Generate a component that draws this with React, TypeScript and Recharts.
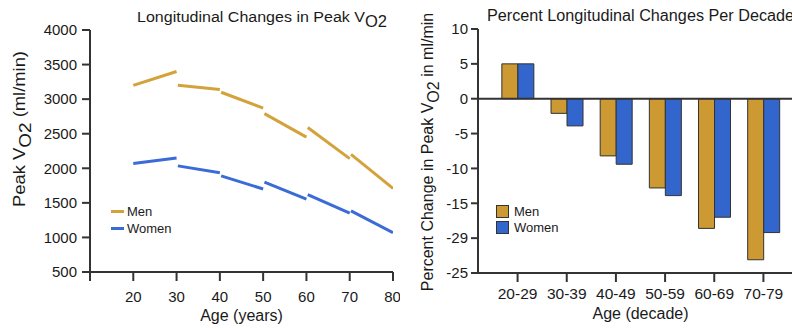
import { LineChart, Line, BarChart, Bar, XAxis, YAxis, Legend, ReferenceLine } from 'recharts';

// left panel: peak VO2 (ml/min), one segment per decade
const decadeStarts = [20, 30, 40, 50, 60, 70];
const menStart = [3200, 3200, 3100, 2790, 2590, 2200];
const menEnd = [3400, 3140, 2870, 2450, 2140, 1710];
const womenStart = [2070, 2035, 1890, 1800, 1620, 1385];
const womenEnd = [2150, 1935, 1700, 1555, 1350, 1070];
const ageTicks = [10, 20, 30, 40, 50, 60, 70, 80];
const vo2Ticks = [500, 1000, 1500, 2000, 2500, 3000, 3500, 4000];

// right panel: percent change per decade
const decades = ['20-29', '30-39', '40-49', '50-59', '60-69', '70-79'];
const menPct = [5, -2.1, -8.2, -12.8, -18.6, -23.1];
const womenPct = [5, -3.9, -9.4, -13.9, -17.0, -19.2];
const pctTicks = [10, 5, 0, -5, -10, -15, -20, -25];
const pctTickLabels = ['10', '5', '0', '-5', '-10', '-15', '-29', '-25'];

const MEN = '#CC9933';
const WOMEN = '#3366CC';
const LINE_MEN = '#D4A23A';
const LINE_WOMEN = '#3A6BD6';
const INK = '#1a1a1a';
const AXIS = '#333';
const FONT = '"Liberation Sans", Arial, sans-serif';

const segment = (i: number, start: number[], end: number[]) => [
  { age: i === 0 ? decadeStarts[i] : decadeStarts[i] + 0.3, v: start[i] },
  { age: decadeStarts[i] + 10, v: end[i] },
];

const barData = decades.map((d, i) => ({ decade: d, men: menPct[i], women: womenPct[i] }));

const tickStyle = { fontSize: 15, fill: INK, fontFamily: FONT };

const LineLegend = () => (
  <div style={{ fontFamily: FONT, fontSize: 13, color: INK }}>
    {[
      { name: 'Men', c: LINE_MEN },
      { name: 'Women', c: LINE_WOMEN },
    ].map((it) => (
      <div key={it.name} style={{ display: 'flex', alignItems: 'center', height: 17 }}>
        <span style={{ display: 'inline-block', width: 13, height: 3, background: it.c, marginRight: 3 }} />
        {it.name}
      </div>
    ))}
  </div>
);

const BarLegend = () => (
  <div style={{ fontFamily: FONT, fontSize: 13, color: INK }}>
    {[
      { name: 'Men', c: MEN },
      { name: 'Women', c: WOMEN },
    ].map((it) => (
      <div key={it.name} style={{ display: 'flex', alignItems: 'center', height: 16 }}>
        <span
          style={{
            display: 'inline-block',
            width: 11,
            height: 11,
            background: it.c,
            border: `1px solid ${AXIS}`,
            marginRight: 5,
          }}
        />
        {it.name}
      </div>
    ))}
  </div>
);

const LeftYLabel = () => (
  <text
    x={25}
    y={129}
    transform="rotate(-90, 25, 129)"
    textAnchor="middle"
    fill={INK}
    fontFamily={FONT}
    fontSize={16.5}
    textLength={156}
    lengthAdjust="spacingAndGlyphs"
  >
    Peak V
    <tspan fontSize={17} dy={6}>O2</tspan>
    <tspan fontSize={16.5} dy={-6}> (ml/min)</tspan>
  </text>
);

const RightYLabel = () => (
  <text
    x={33}
    y={152}
    transform="rotate(-90, 33, 152)"
    textAnchor="middle"
    fill={INK}
    fontFamily={FONT}
    fontSize={16}
  >
    Percent Change in Peak V
    <tspan dy={6}>O2</tspan>
    <tspan dy={-6}> in ml/min</tspan>
  </text>
);

export default function App() {
  return (
    <div
      style={{
        position: 'absolute',
        left: 0,
        top: 0,
        width: 792,
        height: 329,
        overflow: 'hidden',
        background: '#fff',
        fontFamily: FONT,
      }}
    >
      <div style={{ position: 'absolute', left: 0, top: 0 }}>
        <LineChart width={400} height={329} margin={{ top: 30, right: 7, bottom: 0, left: 0 }}>
          <XAxis
            type="number"
            dataKey="age"
            domain={[10, 80]}
            ticks={ageTicks}
            tickFormatter={(v) => (v === 10 ? '' : String(v))}
            allowDataOverflow
            height={57}
            tick={tickStyle}
            tickSize={9}
            tickMargin={10}
            axisLine={{ stroke: AXIS, strokeWidth: 2 }}
            tickLine={{ stroke: AXIS, strokeWidth: 2 }}
            label={{ value: 'Age (years)', position: 'insideBottom', offset: 8, fill: INK, fontSize: 16, fontFamily: FONT }}
          />
          <YAxis
            type="number"
            domain={[500, 4000]}
            ticks={vo2Ticks}
            width={90}
            tick={tickStyle}
            tickSize={8}
            tickMargin={5}
            axisLine={{ stroke: AXIS, strokeWidth: 2 }}
            tickLine={{ stroke: AXIS, strokeWidth: 2 }}
            label={{ content: () => <LeftYLabel /> }}
          />
          {decadeStarts.map((d, i) => (
            <Line
              key={'m' + d}
              data={segment(i, menStart, menEnd)}
              dataKey="v"
              type="linear"
              stroke={LINE_MEN}
              strokeWidth={3}
              dot={false}
              legendType="none"
              isAnimationActive={false}
            />
          ))}
          {decadeStarts.map((d, i) => (
            <Line
              key={'w' + d}
              data={segment(i, womenStart, womenEnd)}
              dataKey="v"
              type="linear"
              stroke={LINE_WOMEN}
              strokeWidth={3}
              dot={false}
              legendType="none"
              isAnimationActive={false}
            />
          ))}
          <Legend
            layout="vertical"
            align="center"
            verticalAlign="middle"
            content={() => <LineLegend />}
            wrapperStyle={{ left: 111, top: 203, width: 'auto' }}
          />
          <text
            x={137}
            y={22}
            fill={INK}
            fontFamily={FONT}
            fontSize={15.5}
            textLength={250}
            lengthAdjust="spacingAndGlyphs"
          >
            Longitudinal Changes in Peak V
            <tspan fontSize={16} dy={5}>O2</tspan>
          </text>
        </LineChart>
      </div>
      <div style={{ position: 'absolute', left: 400, top: 0 }}>
        <BarChart
          width={403}
          height={329}
          data={barData}
          margin={{ top: 29, right: 0, bottom: 0, left: 0 }}
          barCategoryGap="18%"
          barGap={0}
        >
          <XAxis
            dataKey="decade"
            height={56}
            padding={{ left: 15, right: 15 }}
            tick={{ ...tickStyle, fontSize: 15.5 }}
            tickSize={9}
            tickMargin={6}
            interval={0}
            axisLine={{ stroke: AXIS, strokeWidth: 2 }}
            tickLine={{ stroke: AXIS, strokeWidth: 2 }}
            label={{ value: 'Age (decade)', position: 'insideBottom', offset: 10, fill: INK, fontSize: 16, fontFamily: FONT }}
          />
          <YAxis
            type="number"
            domain={[-25, 10]}
            ticks={pctTicks}
            tickFormatter={(v) => pctTickLabels[pctTicks.indexOf(v)] ?? String(v)}
            width={78}
            tick={tickStyle}
            tickSize={7}
            tickMargin={3}
            axisLine={{ stroke: AXIS, strokeWidth: 2 }}
            tickLine={{ stroke: AXIS, strokeWidth: 2 }}
            label={{ content: () => <RightYLabel /> }}
          />
          <Bar dataKey="men" name="Men" fill={MEN} stroke={AXIS} strokeWidth={1} isAnimationActive={false} />
          <Bar dataKey="women" name="Women" fill={WOMEN} stroke={AXIS} strokeWidth={1} isAnimationActive={false} />
          <ReferenceLine y={0} stroke={AXIS} strokeWidth={2} />
          <Legend
            layout="vertical"
            align="center"
            verticalAlign="middle"
            content={() => <BarLegend />}
            wrapperStyle={{ left: 96, top: 203, width: 'auto' }}
          />
          <text
            x={87}
            y={21}
            fill={INK}
            fontFamily={FONT}
            fontSize={16}
            textLength={307}
            lengthAdjust="spacingAndGlyphs"
          >
            Percent Longitudinal Changes Per Decade
          </text>
        </BarChart>
      </div>
    </div>
  );
}
